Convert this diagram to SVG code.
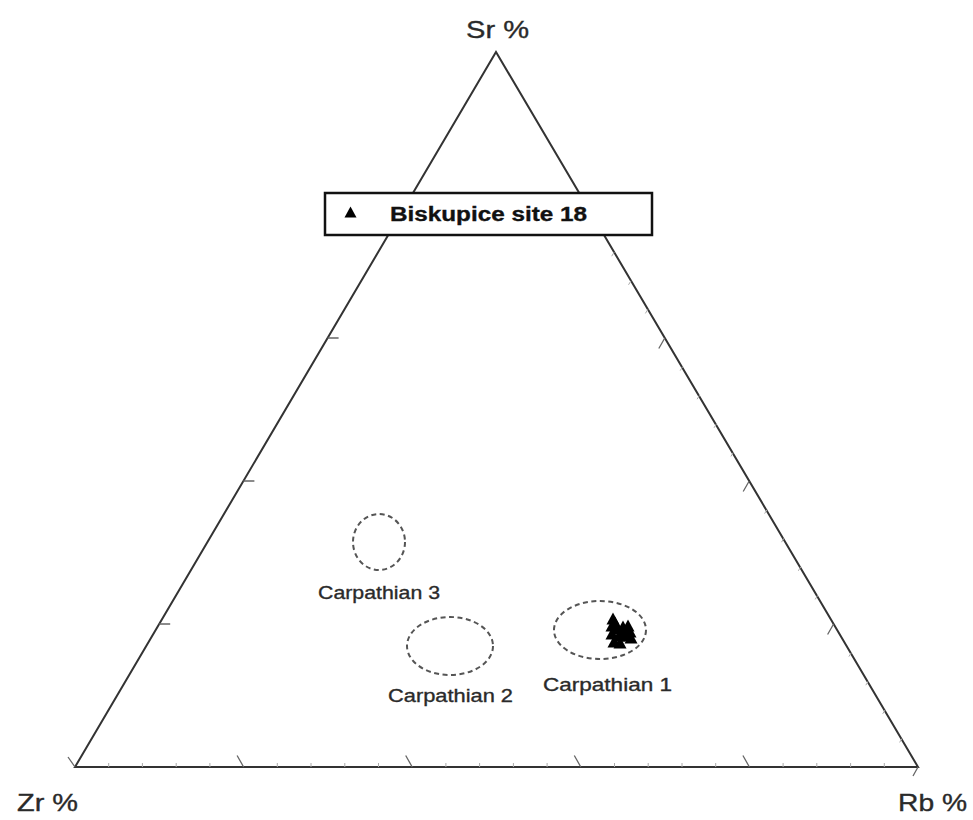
<svg xmlns="http://www.w3.org/2000/svg" xmlns:xlink="http://www.w3.org/1999/xlink" width="973" height="820" viewBox="0 0 973 820">
<style>
.axis{fill:none;stroke:#333;stroke-width:2;stroke-linejoin:miter}
.major{stroke:#666;stroke-width:1.3}
.minor{stroke:#aaa;stroke-width:1}
.lbl{font-family:"Liberation Sans",Arial,sans-serif;fill:#2a2a2a;stroke:#2a2a2a;stroke-width:0.35}
.field{fill:none;stroke:#555;stroke-width:2;stroke-dasharray:5 3.5}
.pt{fill:#000}
</style>
<defs>
<path id="tri" d="M0,-7.5 L6.5,4.5 L-6.5,4.5 Z"/>
</defs>
<rect width="973" height="820" fill="#fff"/>
<g id="frame">
<path class="axis" d="M75,767 L496,52 L918,767 Z"/>
</g>
<g id="ticks">
<g class="minor">
<path d="M108.7,767v-4M142.4,767v-4M176.2,767v-4M209.9,767v-4M277.3,767v-4M311,767v-4M344.8,767v-4M378.5,767v-4M445.9,767v-4M479.6,767v-4M513.4,767v-4M547.1,767v-4M614.5,767v-4M648.2,767v-4M682,767v-4M715.7,767v-4M783.1,767v-4M816.8,767v-4M850.6,767v-4M884.3,767v-4"/>
<path d="M682.7,366.6l-2.5,4M699.6,395.2l-2.5,4M716.5,423.8l-2.5,4M733.4,452.4l-2.5,4M767.1,509.6l-2.5,4M784,538.2l-2.5,4M800.8,566.8l-2.5,4M817.7,595.4l-2.5,4M851.4,652.6l-2.5,4M868.3,681.2l-2.5,4M885.2,709.8l-2.5,4M902.1,738.4l-2.5,4M597.3,223.6l-2.5,4M614.2,252.2l-2.5,4M631,280.8l-2.5,4M647.9,309.4l-2.5,4"/>
</g>
<g class="major">
<path d="M243.6,767l-6.5,-11.5M412.2,767l-6.5,-11.5M580.8,767l-6.5,-11.5M749.4,767l-6.5,-11.5"/>
<path d="M159.2,624h11M243.4,481h11M327.6,338h11"/>
<path d="M664.8,338l-6,10.5M749.2,481l-6,10.5M833.6,624l-6,10.5"/>
<path d="M75,767l-7,-10M918,767l-5,9"/>
</g>
</g>
<g id="carpathian3">
<ellipse class="field" cx="379" cy="542" rx="26" ry="28"/>
<text class="lbl" x="379" y="599" font-size="19" text-anchor="middle" textLength="122" lengthAdjust="spacingAndGlyphs">Carpathian 3</text>
</g>
<g id="carpathian2">
<ellipse class="field" cx="450" cy="646" rx="43" ry="29"/>
<text class="lbl" x="450.5" y="702" font-size="19" text-anchor="middle" textLength="125" lengthAdjust="spacingAndGlyphs">Carpathian 2</text>
</g>
<g id="carpathian1">
<ellipse class="field" cx="600" cy="630" rx="46" ry="29"/>
<g class="pt">
<use xlink:href="#tri" x="613" y="620"/>
<use xlink:href="#tri" x="612" y="627"/>
<use xlink:href="#tri" x="615" y="624"/>
<use xlink:href="#tri" x="618" y="630"/>
<use xlink:href="#tri" x="623" y="628"/>
<use xlink:href="#tri" x="628" y="627"/>
<use xlink:href="#tri" x="630" y="633"/>
<use xlink:href="#tri" x="626" y="637"/>
<use xlink:href="#tri" x="619" y="637"/>
<use xlink:href="#tri" x="612" y="635"/>
<use xlink:href="#tri" x="614" y="643"/>
<use xlink:href="#tri" x="620" y="644"/>
<use xlink:href="#tri" x="631" y="639"/>
<use xlink:href="#tri" x="624" y="633"/>
</g>
<text class="lbl" x="607.5" y="691" font-size="19" text-anchor="middle" textLength="129" lengthAdjust="spacingAndGlyphs">Carpathian 1</text>
</g>
<g id="legend">
<rect x="325" y="193" width="327" height="42" fill="#fff" stroke="#111" stroke-width="2.5"/>
<path class="pt" d="M350.5,206.5 L356.5,217.5 L344.5,217.5 Z"/>
<text class="lbl" x="390" y="221" font-size="20" font-weight="bold" style="fill:#111;stroke:#111" textLength="197" lengthAdjust="spacingAndGlyphs">Biskupice site 18</text>
</g>
<g id="labels">
<text class="lbl" x="497.5" y="38" font-size="24" text-anchor="middle" textLength="63" lengthAdjust="spacingAndGlyphs">Sr %</text>
<text class="lbl" x="17" y="811" font-size="24" textLength="61" lengthAdjust="spacingAndGlyphs">Zr %</text>
<text class="lbl" x="898" y="811" font-size="24" textLength="69" lengthAdjust="spacingAndGlyphs">Rb %</text>
</g>
</svg>
